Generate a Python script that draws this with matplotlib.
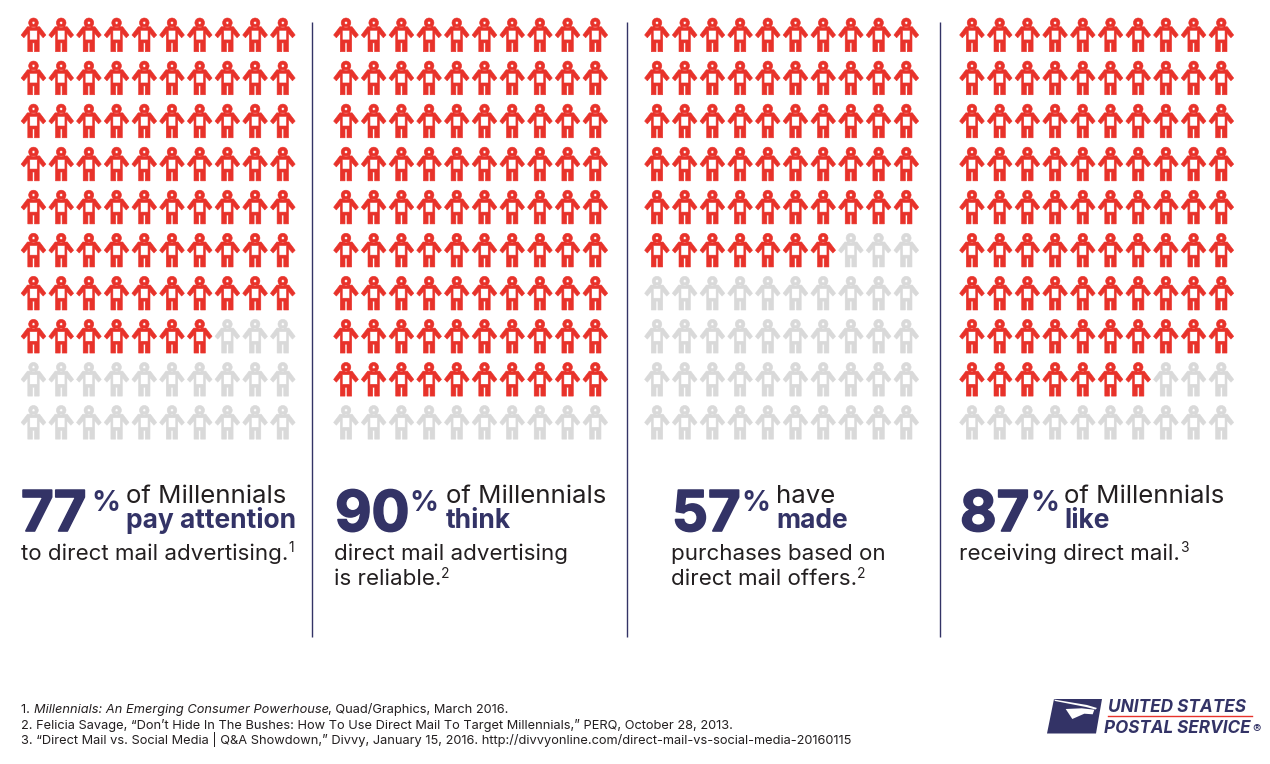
import numpy as np
import matplotlib
matplotlib.use("Agg")
import matplotlib.pyplot as plt
import matplotlib.patheffects as pe
from matplotlib.path import Path
from matplotlib.patches import Polygon

plt.rcParams['font.family'] = ['Inter', 'DejaVu Sans']

RED = '#e8322a'
GREY = '#d9d9d9'
NAVY = '#333366'
INK = '#231f20'

percents = [77, 90, 57, 87]
filled = [77, 90, 57, 87]
total_icons = 100
line1 = ['of Millennials', 'of Millennials', 'have', 'of Millennials']
line2 = ['pay attention', 'think', 'made', 'like']
line3 = ['to direct mail advertising.', 'direct mail advertising', 'purchases based on', 'receiving direct mail.']
line4 = ['', 'is reliable.', 'direct mail offers.', '']
refs = ['1', '2', '2', '3']
notes = [
    [('1. ', 'normal'), ('Millennials: An Emerging Consumer Powerhouse', 'italic'), (', Quad/Graphics, March 2016.', 'normal')],
    [('2. Felicia Savage, \u201cDon\u2019t Hide In The Bushes: How To Use Direct Mail To Target Millennials,\u201d PERQ, October 28, 2013.', 'normal')],
    [('3. \u201cDirect Mail vs. Social Media | Q&A Showdown,\u201d Divvy, January 15, 2016. http://divvyonline.com/direct-mail-vs-social-media-20160115', 'normal')],
]

# layout, in pixels of the 1270x764 picture
grid_left = [33.5, 346, 657, 972]
pitch_x = 27.7
grid_top = 35
pitch_y = 43.05
big_x = [21, 335, 672, 960]
pct_x = [91, 409, 741, 1030]
head_x = [126, 446, 776, 1064]
body_x = [21, 334, 671, 959]
divider_x = [312, 627, 940]


def person_marker():
    right = [(0, 8.4), (6.2, 8.4), (12.6, 0), (9.8, -2.8), (5.8, 1.8), (5.8, -17), (1, -17), (1, -8)]
    left = [(-x, y) for x, y in right[::-1][:-1]]
    outline = Path(right + left + [(0, 8.4)], closed=True)
    hole = Path([(-3.8, 4.8), (-3.8, -5), (3.8, -5), (3.8, 4.8), (-3.8, 4.8)], closed=True)
    head = Path.circle((0, 12.4), 4.9)
    eye = Path.circle((0, 12.4), 1.5)
    eye = Path(eye.vertices[::-1], eye.codes)
    # outline runs clockwise, so the torso hole has to run the other way
    return Path.make_compound_path(outline, hole, head, eye)


fig = plt.figure(figsize=(12.7, 7.64), dpi=100)
ax = fig.add_axes([0, 0, 1, 1])
ax.set_xlim(0, 1270)
ax.set_ylim(764, 0)
ax.axis('off')
renderer = fig.canvas.get_renderer()


def right_edge(t):
    return ax.transData.inverted().transform(t.get_window_extent(renderer).p1)[0]


marker = person_marker()
size = (34 * 0.72) ** 2
for i in range(4):
    idx = np.arange(total_icons)
    xs = grid_left[i] + (idx % 10) * pitch_x
    ys = grid_top + (idx // 10) * pitch_y
    colors = [RED if k < filled[i] else GREY for k in idx]
    ax.scatter(xs, ys, s=size, marker=marker, c=colors, edgecolors='face', linewidths=0.4)

    ax.text(big_x[i], 531, str(percents[i]), fontsize=40.5, fontweight='bold', color=NAVY,
            va='baseline', path_effects=[pe.withStroke(linewidth=1.2, foreground=NAVY)])
    ax.text(pct_x[i], 511, '%', fontsize=20.5, fontweight='bold', color=NAVY, va='baseline')
    ax.text(head_x[i], 503, line1[i], fontsize=18.6, color=INK, va='baseline')
    ax.text(head_x[i], 528, line2[i], fontsize=19, fontweight='bold', color=NAVY, va='baseline')
    t3 = ax.text(body_x[i], 560, line3[i], fontsize=16.1, color=INK, va='baseline')
    t4 = ax.text(body_x[i], 585, line4[i], fontsize=16.1, color=INK, va='baseline')
    # the reference mark follows whichever line ends the sentence
    if line4[i]:
        ax.text(right_edge(t4), 578, refs[i], fontsize=10, color=INK, va='baseline')
    else:
        ax.text(right_edge(t3), 552, refs[i], fontsize=10, color=INK, va='baseline')

ax.vlines(divider_x, 22, 637, color=NAVY, linewidth=1)

# footnotes
note_y = [713, 729, 744]
for parts, y in zip(notes, note_y):
    x = 21
    for txt, style in parts:
        t = ax.text(x, y, txt, fontsize=9.23, style=style, color=INK, va='baseline')
        x = right_edge(t)

# logo
ax.add_patch(Polygon([(1054, 699), (1102, 699), (1096, 733.5), (1047, 733.5)], closed=True, fc=NAVY, ec='none'))
ax.add_patch(Polygon([(1054, 699.5), (1087, 705), (1097, 708), (1095.5, 709.5), (1086, 707), (1055, 701)],
                     closed=True, fc='white', ec='none'))
ax.add_patch(Polygon([(1065.7, 709), (1081.7, 708.3), (1094.3, 709.7), (1092.7, 714.3), (1084.3, 713.7), (1072.3, 719)],
                     closed=True, fc='white', ec='none'))
ax.text(1108, 712, 'UNITED STATES', fontsize=12.4, fontweight='bold', style='italic', color=NAVY, va='baseline')
ax.plot([1108, 1252], [716, 716], color=RED, linewidth=1)
ax.text(1104, 733, 'POSTAL SERVICE', fontsize=12.3, fontweight='bold', style='italic', color=NAVY, va='baseline')
ax.text(1252, 733, '\u00ae', fontsize=9, color=NAVY, va='baseline')

fig.savefig('out.png', dpi=100, facecolor='white')
